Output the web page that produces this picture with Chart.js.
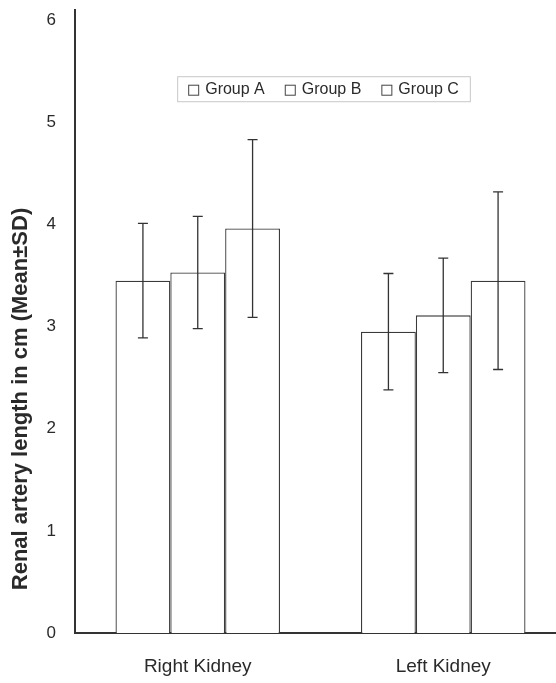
<!DOCTYPE html>
<html>
<head>
<meta charset="utf-8">
<script src="https://cdn.jsdelivr.net/npm/chart.js@4"></script>
<style>
  html, body { margin: 0; padding: 0; background: #fff; overflow: hidden; }
  #wrap { width: 572px; height: 683px; }
</style>
</head>
<body>
<div id="wrap"><canvas id="kidneyChart"></canvas></div>
<script>
const categories = ['Right Kidney', 'Left Kidney'];
const groupNames = ['Group A', 'Group B', 'Group C'];
const groupA = [3.45, 2.95];
const groupB = [3.53, 3.11];
const groupC = [3.96, 3.45];
const sdA = [0.56, 0.57];
const sdB = [0.55, 0.56];
const sdC = [0.87, 0.87];
const yTicks = [0, 1, 2, 3, 4, 5, 6];

const ink = '#2a2a2a';

// error bars (mean +- SD)
const errorBars = {
    id: 'errorBars',
    afterDatasetsDraw(chart) {
        const ctx = chart.ctx;
        const y = chart.scales.y;
        ctx.save();
        ctx.strokeStyle = '#333';
        ctx.lineWidth = 1.3;
        chart.data.datasets.forEach((ds, i) => {
            chart.getDatasetMeta(i).data.forEach((bar, j) => {
                const top = y.getPixelForValue(ds.data[j] + ds.sd[j]);
                const bot = y.getPixelForValue(ds.data[j] - ds.sd[j]);
                ctx.beginPath();
                ctx.moveTo(bar.x, top);
                ctx.lineTo(bar.x, bot);
                ctx.moveTo(bar.x - 5, top);
                ctx.lineTo(bar.x + 5, top);
                ctx.moveTo(bar.x - 5, bot);
                ctx.lineTo(bar.x + 5, bot);
                ctx.stroke();
            });
        });
        ctx.restore();
    }
};

// boxed legend inside the plot
const boxLegend = {
    id: 'boxLegend',
    afterDraw(chart) {
        const ctx = chart.ctx;
        const area = chart.chartArea;
        const y = chart.scales.y;
        ctx.save();
        ctx.font = '16px "Liberation Sans", Arial, sans-serif';
        const mark = 10, gap = 7, itemGap = 20, pad = 11;
        const widths = chart.data.datasets.map(ds => ctx.measureText(ds.label).width);
        let total = widths.reduce((a, b) => a + b, 0) + widths.length * (mark + gap) + (widths.length - 1) * itemGap;
        const boxW = total + pad * 2, boxH = 25;
        const boxX = (area.left + area.right) / 2 + 3 - boxW / 2;
        const boxY = y.getPixelForValue(6) + 56;
        ctx.strokeStyle = '#c8c8c8';
        ctx.lineWidth = 1;
        ctx.strokeRect(boxX + 0.5, boxY + 0.5, boxW, boxH);
        let x = boxX + pad;
        const cy = boxY + boxH / 2 + 1;
        ctx.textBaseline = 'middle';
        ctx.fillStyle = ink;
        chart.data.datasets.forEach((ds, i) => {
            ctx.strokeStyle = '#444';
            ctx.strokeRect(x + 0.5, cy - mark / 2 + 0.5, mark, mark);
            x += mark + gap;
            ctx.fillText(ds.label, x, cy);
            x += widths[i] + itemGap;
        });
        ctx.restore();
    }
};

// rotated y axis title
const yTitle = {
    id: 'yTitle',
    afterDraw(chart) {
        const ctx = chart.ctx;
        ctx.save();
        ctx.translate(21, 399);
        ctx.rotate(-Math.PI / 2);
        ctx.font = 'bold 22px "Liberation Sans", Arial, sans-serif';
        ctx.fillStyle = ink;
        ctx.textAlign = 'center';
        ctx.textBaseline = 'middle';
        ctx.fillText('Renal artery length in cm (Mean±SD)', 0, 0);
        ctx.restore();
    }
};

const barStyle = {
    backgroundColor: '#ffffff',
    borderColor: '#3a3a3a',
    borderWidth: 1.3,
    categoryPercentage: 0.67,
    barPercentage: 1.0
};

const ctx = document.getElementById('kidneyChart').getContext('2d');
const kidneyChart = new Chart(ctx, {
    type: 'bar',
    data: {
        labels: categories,
        datasets: [
            Object.assign({ label: groupNames[0], data: groupA, sd: sdA }, barStyle),
            Object.assign({ label: groupNames[1], data: groupB, sd: sdB }, barStyle),
            Object.assign({ label: groupNames[2], data: groupC, sd: sdC }, barStyle)
        ]
    },
    options: {
        responsive: true,
        maintainAspectRatio: false,
        animation: false,
        layout: { padding: { top: 10, right: 6, left: 0, bottom: 0 } },
        plugins: {
            legend: { display: false },
            tooltip: { enabled: false }
        },
        scales: {
            x: {
                grid: { display: false, drawTicks: false },
                border: { display: true, color: '#333', width: 2 },
                ticks: {
                    color: ink,
                    padding: 22,
                    font: { family: '"Liberation Sans", Arial, sans-serif', size: 19 }
                },
                afterFit(axis) {
                    axis.height = 50;
                    axis.paddingLeft = 0;
                    axis.paddingRight = 0;
                }
            },
            y: {
                min: 0,
                max: 6.1,
                afterBuildTicks(axis) { axis.ticks = yTicks.map(v => ({ value: v })); },
                grid: { display: false, drawTicks: false },
                border: { display: true, color: '#333', width: 2 },
                ticks: {
                    color: ink,
                    padding: 19,
                    font: { family: '"Liberation Sans", Arial, sans-serif', size: 17 }
                },
                afterFit(axis) {
                    axis.width = 75;
                    axis.paddingTop = 0;
                    axis.paddingBottom = 0;
                }
            }
        }
    },
    plugins: [errorBars, boxLegend, yTitle]
});
</script>
</body>
</html>
